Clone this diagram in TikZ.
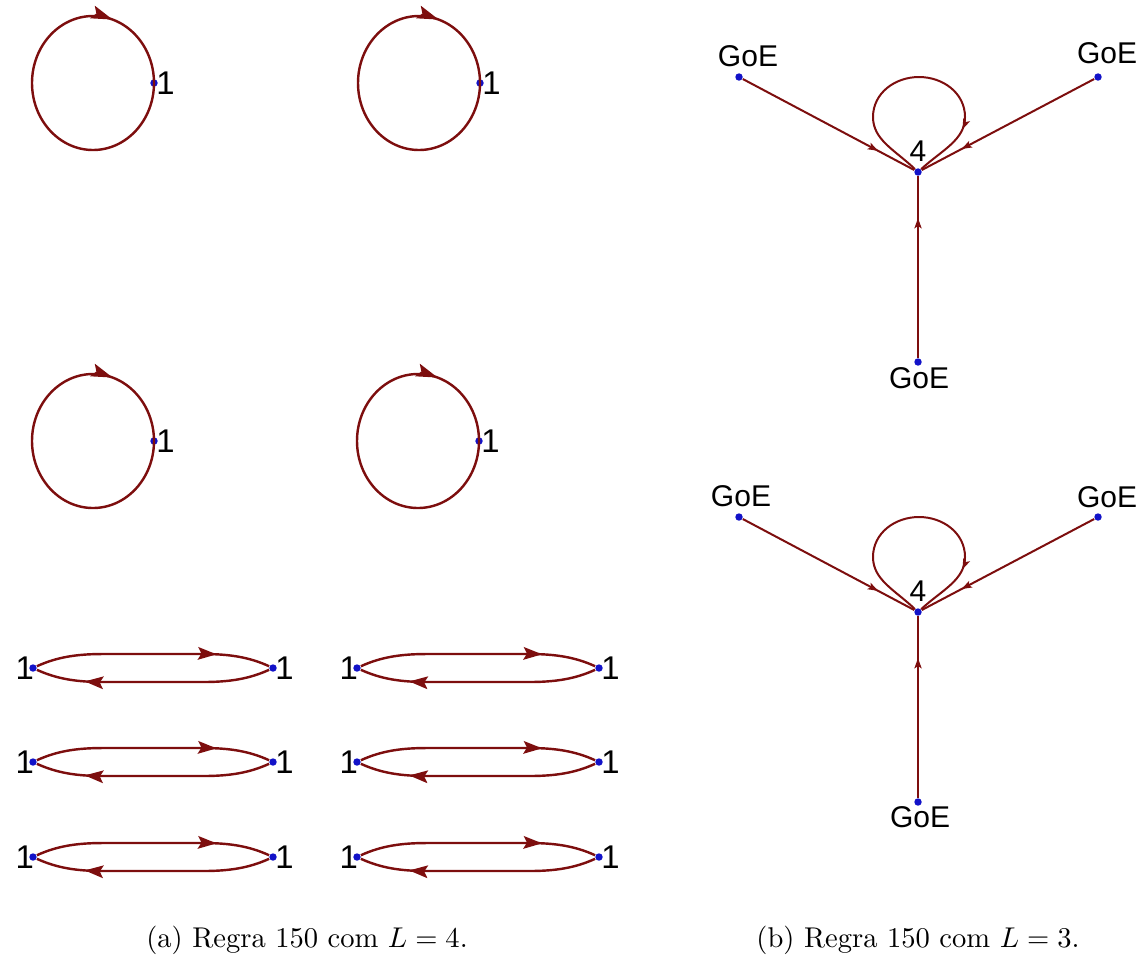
\documentclass[tikz,border=0pt]{standalone}
\usepackage{fontspec}
\newfontfamily\lblfont{Liberation Sans}
\usetikzlibrary{arrows.meta,decorations.markings,calc}

\definecolor{edgered}{RGB}{125,14,14}
\definecolor{dotblue}{RGB}{18,18,200}

\begin{document}
\begin{tikzpicture}[x=0.35pt,y=-0.35pt,
  dot/.style={circle,fill=dotblue,inner sep=0pt,minimum size=2.6pt},
  onelbl/.style={font=\lblfont\fontsize{11.5}{12}\selectfont,inner sep=0.6pt,text=black},
  goelbl/.style={font=\lblfont\fontsize{10.5}{12}\selectfont,inner sep=0pt,text=black},
  fourlbl/.style={font=\lblfont\fontsize{10.5}{12}\selectfont,inner sep=1pt,text=black},
  edge/.style={color=edgered,line width=0.85pt},
  thinedge/.style={color=edgered,line width=0.7pt},
  looptip/.style={postaction={decorate,decoration={markings,
      mark=at position #1 with {\arrow{Stealth[length=7.5pt,width=4.6pt,inset=1.4pt]}}}}},
  bigtip/.style={postaction={decorate,decoration={markings,
      mark=at position #1 with {\arrow{Stealth[length=6.5pt,width=4.4pt,inset=1.2pt]}}}}},
  smalltip/.style={postaction={decorate,decoration={markings,
      mark=at position #1 with {\arrow{Stealth[length=3.6pt,width=2.5pt,inset=0.8pt]}}}}},
  caption/.style={font=\normalsize,inner sep=0pt}]

\useasboundingbox (0,0) rectangle (1143,955);

% ---------- left part: four one-cycles ----------
\foreach \n/\x/\y in {1/154/83, 2/480/83, 3/154/441, 4/479/441} {
  \node[dot,label={[onelbl,label distance=-1.5pt]right:1}] (loop\n) at (\x,\y) {};
  \draw[edge,looptip=0.8] (loop\n) arc[start angle=0,end angle=360,x radius=61,y radius=67];
}

% ---------- left part: six two-cycles ----------
\foreach \r/\y in {1/668, 2/762, 3/857} {
  \foreach \c/\xa/\xb in {1/33/273, 2/357/599} {
    \node[dot,label={[onelbl,label distance=-2.6pt]left:1}] (pa\r\c) at (\xa,\y) {};
    \node[dot,label={[onelbl,label distance=-1.5pt]right:1}] (pb\r\c) at (\xb,\y) {};
    \draw[edge,bigtip=0.77] (pa\r\c)
      .. controls ($(pa\r\c)+(24,-11)$) and ($(pa\r\c)+(44,-14)$) .. ($(pa\r\c)+(70,-14)$)
      -- ($(pb\r\c)+(-70,-14)$)
      .. controls ($(pb\r\c)+(-44,-14)$) and ($(pb\r\c)+(-24,-11)$) .. (pb\r\c);
    \draw[edge,bigtip=0.79] (pb\r\c)
      .. controls ($(pb\r\c)+(-24,11)$) and ($(pb\r\c)+(-44,14)$) .. ($(pb\r\c)+(-70,14)$)
      -- ($(pa\r\c)+(70,14)$)
      .. controls ($(pa\r\c)+(44,14)$) and ($(pa\r\c)+(24,11)$) .. (pa\r\c);
  }
}

% ---------- right part: two Garden-of-Eden trees ----------
\foreach \k/\cy in {1/172, 2/612} {
  \node[dot,label={[fourlbl,label distance=1pt]above:4}] (c\k) at (918,\cy) {};
  \node[dot] (gl\k) at (739,\cy-95) {};
  \node[dot] (gr\k) at (1098,\cy-95) {};
  \node[dot] (gb\k) at (918,\cy+190) {};
  \draw[thinedge,smalltip=0.79] (gl\k) -- (c\k);
  \draw[thinedge,smalltip=0.77] (gr\k) -- (c\k);
  \draw[thinedge,smalltip=0.77] (gb\k) -- (c\k);
  \draw[thinedge,smalltip=0.79] (c\k)
    .. controls ($(c\k)+(-23,-22)$) and ($(c\k)+(-45,-32)$) .. ($(c\k)+(-45,-55)$)
    .. controls ($(c\k)+(-45,-79)$) and ($(c\k)+(-23,-95)$) .. ($(c\k)+(1,-95)$)
    .. controls ($(c\k)+(25,-95)$) and ($(c\k)+(47,-79)$) .. ($(c\k)+(47,-55)$)
    .. controls ($(c\k)+(47,-32)$) and ($(c\k)+(24,-22)$) .. (c\k);
}

\node[goelbl] (tgl1) at (748,56) {GoE};
\node[goelbl] (tgr1) at (1107,53) {GoE};
\node[goelbl] (tgb1) at (919,378) {GoE};
\node[goelbl] (tgl2) at (741,496) {GoE};
\node[goelbl] (tgr2) at (1107,497) {GoE};
\node[goelbl] (tgb2) at (920,817) {GoE};

% ---------- captions ----------
\node[caption] (capa) at (307,940) {(a) Regra 150 com $L=4$.};
\node[caption] (capb) at (918,940) {(b) Regra 150 com $L=3$.};
\end{tikzpicture}
\end{document}
